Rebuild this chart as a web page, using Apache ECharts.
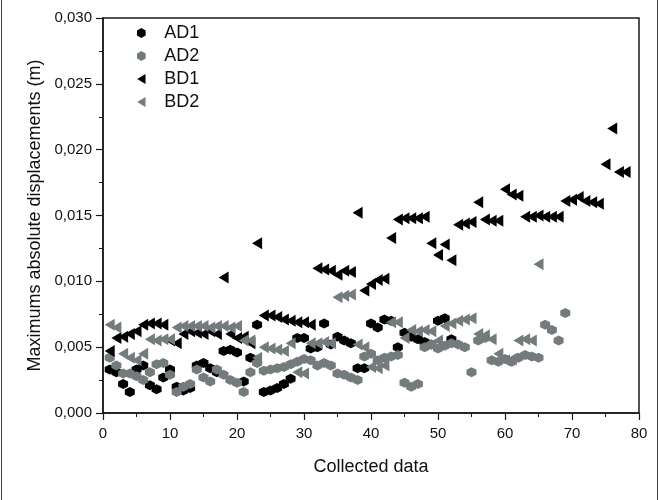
<!DOCTYPE html>
<html lang="en">
<head>
    <meta charset="UTF-8">
    <title>Maximums absolute displacements</title>
    <script src="https://cdn.jsdelivr.net/npm/echarts@6/dist/echarts.min.js"></script>
</head>
<body style="margin:0;">
<div id="main" style="width:659px;height:500px;"></div>
<script>
    // values, x = 1, 2, 3 ...
    let ad1 = [0.0033,0.0031,0.0022,0.0016,0.0033,0.0036,0.0021,0.0018,0.0027,0.0033,
        0.0020,0.0017,0.0019,0.0036,0.0038,0.0034,0.0031,0.0047,0.0048,0.0046,
        0.0024,0.0042,0.0067,0.0016,0.0017,0.0019,0.0022,0.0026,0.0057,0.0057,
        0.0049,0.0050,0.0068,0.0052,0.0058,0.0055,0.0053,0.0034,0.0034,0.0068,
        0.0065,0.0071,0.0070,0.0050,0.0061,0.0058,0.0056,0.0054,0.0052,0.0070,
        0.0072,0.0056];
    let ad2 = [0.0042,0.0036,0.0030,0.0030,0.0028,0.0025,0.0031,0.0037,0.0038,0.0029,
        0.0016,0.0020,0.0022,0.0033,0.0027,0.0024,0.0033,0.0029,0.0025,0.0023,
        0.0016,0.0031,0.0038,0.0032,0.0033,0.0034,0.0035,0.0037,0.0039,0.0041,
        0.0040,0.0036,0.0038,0.0036,0.0030,0.0029,0.0027,0.0025,0.0043,0.0045,
        0.0040,0.0042,0.0043,0.0044,0.0023,0.0020,0.0022,0.0050,0.0052,0.0049,
        0.0051,0.0053,0.0052,0.0050,0.0031,0.0055,0.0057,0.0040,0.0039,0.0041,
        0.0039,0.0042,0.0044,0.0043,0.0042,0.0067,0.0063,0.0055,0.0076];
    let bd1 = [0.0047,0.0057,0.0058,0.0060,0.0062,0.0067,0.0068,0.0068,0.0067,0.0055,
        0.0053,0.0060,0.0062,0.0061,0.0060,0.0062,0.0060,0.0103,0.0060,0.0057,
        0.0058,0.0053,0.0129,0.0074,0.0074,0.0073,0.0071,0.0070,0.0069,0.0069,
        0.0067,0.0110,0.0109,0.0108,0.0105,0.0108,0.0107,0.0152,0.0093,0.0098,
        0.0101,0.0102,0.0133,0.0147,0.0148,0.0148,0.0148,0.0149,0.0129,0.0120,
        0.0128,0.0116,0.0143,0.0144,0.0145,0.0160,0.0147,0.0146,0.0146,0.0170,
        0.0166,0.0165,0.0149,0.0149,0.0150,0.0149,0.0149,0.0149,0.0161,0.0162,
        0.0164,0.0161,0.0160,0.0159,0.0189,0.0216,0.0183,0.0183];
    let bd2 = [0.0067,0.0065,0.0045,0.0042,0.0040,0.0045,0.0056,0.0055,0.0056,0.0056,
        0.0065,0.0066,0.0066,0.0066,0.0066,0.0065,0.0066,0.0066,0.0065,0.0066,
        0.0055,0.0055,0.0042,0.0050,0.0049,0.0048,0.0047,0.0053,0.0031,0.0030,
        0.0053,0.0053,0.0054,0.0053,0.0088,0.0089,0.0090,0.0052,0.0050,0.0035,
        0.0034,0.0036,0.0069,0.0069,0.0057,0.0063,0.0062,0.0063,0.0062,0.0055,
        0.0066,0.0068,0.0070,0.0071,0.0072,0.0060,0.0059,0.0056,0.0045,0.0040,
        0.0041,0.0055,0.0056,0.0055,0.0113];
    let seriesNames = ['AD1', 'AD2', 'BD1', 'BD2'];

    function pairs(arr) {
        return arr.map((v, i) => [i + 1, v]);
    }

    let hexagon = 'path://M0,-10 L8.66,-5 L8.66,5 L0,10 L-8.66,5 L-8.66,-5 Z';
    let leftTri = 'path://M0,6 L10,0 L10,12 Z';
    let black = '#000000';
    let grey = '#737b7c';
    let ink = '#1a1a1a';

    let myChart = echarts.init(document.getElementById('main'));
    let option = {
        animation: false,
        textStyle: {fontFamily: 'Liberation Sans'},
        graphic: [
            {type: 'line', shape: {x1: 1.5, y1: 0, x2: 1.5, y2: 500}, style: {stroke: '#444', lineWidth: 1}},
            {type: 'line', shape: {x1: 657.5, y1: 0, x2: 657.5, y2: 500}, style: {stroke: '#444', lineWidth: 1}}
        ],
        grid: {
            left: 103, right: 20, top: 18, bottom: 87,
            show: true, borderColor: ink, borderWidth: 1.5
        },
        legend: {
            data: seriesNames,
            orient: 'vertical',
            left: 132, top: 19,
            itemGap: 5,
            itemWidth: 10, itemHeight: 10,
            textStyle: {fontSize: 18, color: '#111', padding: [0, 0, 0, 13]}
        },
        xAxis: {
            type: 'value',
            min: 0, max: 80, interval: 10,
            name: 'Collected data',
            nameLocation: 'middle',
            nameGap: 45,
            nameTextStyle: {fontSize: 18, color: '#111'},
            axisLine: {lineStyle: {color: ink, width: 1.5}},
            axisTick: {length: 7, lineStyle: {color: ink, width: 1.2}},
            minorTick: {show: true, splitNumber: 2, length: 4, lineStyle: {color: ink}},
            axisLabel: {fontSize: 15, color: '#111', margin: 13},
            splitLine: {show: false}
        },
        yAxis: {
            type: 'value',
            min: 0, max: 0.03, interval: 0.005,
            name: 'Maximums absolute displacements (m)',
            nameLocation: 'middle',
            nameGap: 57,
            nameTextStyle: {fontSize: 18, color: '#111'},
            axisLine: {lineStyle: {color: ink, width: 1.5}},
            axisTick: {length: 7, lineStyle: {color: ink, width: 1.2}},
            minorTick: {show: true, splitNumber: 2, length: 4, lineStyle: {color: ink}},
            axisLabel: {
                fontSize: 15, color: '#111', margin: 11,
                formatter: v => v.toFixed(3).replace('.', ',')
            },
            splitLine: {show: false}
        },
        series: [
            {name: 'AD1', type: 'scatter', symbol: hexagon, symbolSize: 10, itemStyle: {color: black, opacity: 1}, data: pairs(ad1)},
            {name: 'AD2', type: 'scatter', symbol: hexagon, symbolSize: 10, itemStyle: {color: grey, opacity: 1}, data: pairs(ad2)},
            {name: 'BD1', type: 'scatter', symbol: leftTri, symbolSize: [10, 12], itemStyle: {color: black, opacity: 1}, data: pairs(bd1)},
            {name: 'BD2', type: 'scatter', symbol: leftTri, symbolSize: [10, 12], itemStyle: {color: grey, opacity: 1}, data: pairs(bd2)}
        ]
    };
    myChart.setOption(option);
</script>
</body>
</html>
